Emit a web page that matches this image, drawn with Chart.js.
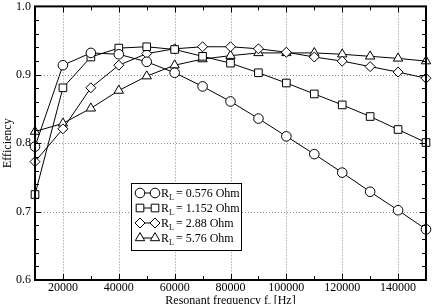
<!DOCTYPE html>
<html>
<head>
<meta charset="utf-8">
<script src="https://cdn.jsdelivr.net/npm/chart.js@4/dist/chart.umd.min.js"></script>
<style>
html,body{margin:0;padding:0;background:#fff;}
canvas{display:block;}
</style>
</head>
<body>
<canvas id="c" width="436" height="304"></canvas>
<script>
const frequencies = [10000,20000,30000,40000,50000,60000,70000,80000,90000,100000,110000,120000,130000,140000,150000];
const effR0576 = [0.795,0.914,0.932,0.930,0.919,0.903,0.883,0.861,0.836,0.810,0.784,0.757,0.729,0.702,0.674];
const effR1152 = [0.725,0.881,0.926,0.939,0.941,0.937,0.927,0.917,0.903,0.888,0.872,0.856,0.839,0.820,0.801];
const effR288  = [0.773,0.821,0.881,0.914,0.931,0.938,0.941,0.941,0.938,0.933,0.926,0.920,0.912,0.904,0.895];
const effR576  = [0.817,0.829,0.851,0.877,0.898,0.914,0.923,0.928,0.932,0.932,0.932,0.930,0.927,0.924,0.920];
const seriesNames = ['0.576 Ohm','1.152 Ohm','2.88 Ohm','5.76 Ohm'];
const xTickLabels = [20000,40000,60000,80000,100000,120000,140000];
const yTickLabels = ['0.6','0.7','0.8','0.9','1.0'];

const FONT = "'Liberation Serif', 'Times New Roman', serif";
const styles = ['circle','rect','rectRot','triangle'];
const radii = [4.8,5.4,5.0,5.4];
const allSeries = [effR0576, effR1152, effR288, effR576];

function mk(i){
  return {
    label: 'R_L = ' + seriesNames[i],
    data: frequencies.map((f,k)=>({x:f, y:allSeries[i][k]})),
    borderColor:'#000', borderWidth:1,
    pointStyle: styles[i], pointRadius: radii[i],
    pointBackgroundColor:'#fff', pointBorderColor:'#000', pointBorderWidth:1,
    fill:false, tension:0, clip:false
  };
}

function marker(ctx, style, x, y, r){
  ctx.beginPath();
  if(style==='circle'){ ctx.arc(x,y,r,0,Math.PI*2); }
  else if(style==='rect'){ const s=Math.SQRT1_2*r; ctx.rect(x-s,y-s,2*s,2*s); }
  else if(style==='rectRot'){ ctx.moveTo(x-r,y); ctx.lineTo(x,y-r); ctx.lineTo(x+r,y); ctx.lineTo(x,y+r); ctx.closePath(); }
  else if(style==='triangle'){
    const a1 = Math.PI*2/3, a2 = Math.PI*4/3;
    ctx.moveTo(x, y - r);
    ctx.lineTo(x + Math.sin(a1)*r, y - Math.cos(a1)*r);
    ctx.lineTo(x + Math.sin(a2)*r, y - Math.cos(a2)*r);
    ctx.closePath();
  }
  ctx.fillStyle='#fff'; ctx.fill();
  ctx.strokeStyle='#000'; ctx.lineWidth=1; ctx.stroke();
}

const deco = {
  id:'deco',
  beforeDatasetsDraw(chart){
    const {ctx, chartArea:a, scales:{x,y}} = chart;
    ctx.save();
    ctx.strokeStyle='#8a8a8a'; ctx.lineWidth=1; ctx.setLineDash([1,2]);
    xTickLabels.forEach(v=>{
      const px=Math.round(x.getPixelForValue(v))+0.5;
      ctx.beginPath(); ctx.moveTo(px,a.top); ctx.lineTo(px,a.bottom); ctx.stroke();
    });
    [0.7,0.8,0.9].forEach(v=>{
      const py=Math.round(y.getPixelForValue(v))+0.5;
      ctx.beginPath(); ctx.moveTo(a.left,py); ctx.lineTo(a.right,py); ctx.stroke();
    });
    ctx.restore();
  },
  afterDatasetsDraw(chart){
    const {ctx, chartArea:a, scales:{x,y}} = chart;
    ctx.save();
    ctx.strokeStyle='#000'; ctx.lineWidth=1; ctx.setLineDash([]);
    for(let v=10000; v<=150000; v+=10000){
      const px=Math.round(x.getPixelForValue(v))+0.5;
      const L = (v%20000===0)?6:4;
      ctx.beginPath();
      ctx.moveTo(px,a.bottom); ctx.lineTo(px,a.bottom-L);
      ctx.moveTo(px,a.top); ctx.lineTo(px,a.top+L);
      ctx.stroke();
    }
    for(let k=0;k<=20;k++){
      const v=0.6+k*0.02;
      const py=Math.round(y.getPixelForValue(v))+0.5;
      const L=(k%5===0)?6:4;
      ctx.beginPath();
      ctx.moveTo(a.left,py); ctx.lineTo(a.left+L,py);
      ctx.moveTo(a.right,py); ctx.lineTo(a.right-L,py);
      ctx.stroke();
    }
    ctx.lineWidth=2;
    ctx.strokeRect(a.left, a.top, a.right-a.left, a.bottom-a.top);

    const bx=131.5, by=183.5, bw=110, bh=67;
    ctx.fillStyle='#fff'; ctx.fillRect(bx,by,bw,bh);
    ctx.lineWidth=1; ctx.strokeStyle='#000'; ctx.strokeRect(bx,by,bw,bh);
    const rows=[193,208,223,238];
    rows.forEach((ry,i)=>{
      ctx.beginPath(); ctx.moveTo(140,ry); ctx.lineTo(155,ry); ctx.lineWidth=1; ctx.strokeStyle='#000'; ctx.stroke();
      marker(ctx, styles[i], 140, ry, radii[i]);
      marker(ctx, styles[i], 155, ry, radii[i]);
      ctx.fillStyle='#000';
      ctx.textBaseline='alphabetic'; ctx.textAlign='left';
      ctx.font='12px '+FONT;
      let tx=161;
      ctx.fillText('R',tx,ry+4); tx+=ctx.measureText('R').width;
      ctx.font='8px '+FONT;
      ctx.fillText('L',tx,ry+7); tx+=ctx.measureText('L').width+2;
      ctx.font='12px '+FONT;
      ctx.fillText('= '+seriesNames[i],tx,ry+4);
    });

    ctx.fillStyle='#000';
    const t1='Resonant frequency f', t3=' [Hz]';
    ctx.font='12px '+FONT; const w1=ctx.measureText(t1).width, w3=ctx.measureText(t3).width;
    ctx.font='8px '+FONT; const w2=ctx.measureText('r').width;
    let sx=(a.left+a.right)/2 - (w1+w2+w3)/2;
    ctx.textAlign='left'; ctx.textBaseline='alphabetic';
    ctx.font='12px '+FONT; ctx.fillText(t1,sx,304); sx+=w1;
    ctx.font='8px '+FONT; ctx.fillText('r',sx,307); sx+=w2;
    ctx.font='12px '+FONT; ctx.fillText(t3,sx,304);

    ctx.translate(8,(a.top+a.bottom)/2);
    ctx.rotate(-Math.PI/2);
    ctx.textAlign='center'; ctx.textBaseline='middle';
    ctx.font='12px '+FONT;
    ctx.fillText('Efficiency',0,0);
    ctx.restore();
  }
};

new Chart(document.getElementById('c'),{
  type:'line',
  data:{datasets:[mk(0),mk(1),mk(2),mk(3)]},
  options:{
    responsive:false, animation:false,
    layout:{padding:{left:0,right:10,top:5,bottom:0}},
    plugins:{legend:{display:false},tooltip:{enabled:false}},
    scales:{
      x:{type:'linear',min:10000,max:150000,
        grid:{display:false,drawTicks:false},border:{display:false},
        ticks:{stepSize:10000,autoSkip:false,maxRotation:0,padding:1,color:'#000',
          font:{family:FONT,size:12},
          callback:(v)=> xTickLabels.includes(v)? String(v) : ''},
        afterFit:(s)=>{s.height=24; s.paddingLeft=0; s.paddingRight=0;}
      },
      y:{type:'linear',min:0.6,max:1.0,
        grid:{display:false,drawTicks:false},border:{display:false},
        ticks:{stepSize:0.1,padding:4,color:'#000',font:{family:FONT,size:12},
          callback:(v)=>{const s=(Math.round(v*10)/10).toFixed(1); return yTickLabels.includes(s)?s:'';}},
        afterFit:(s)=>{s.width=35; s.paddingTop=0; s.paddingBottom=0;}
      }
    }
  },
  plugins:[deco]
});
</script>
</body>
</html>
